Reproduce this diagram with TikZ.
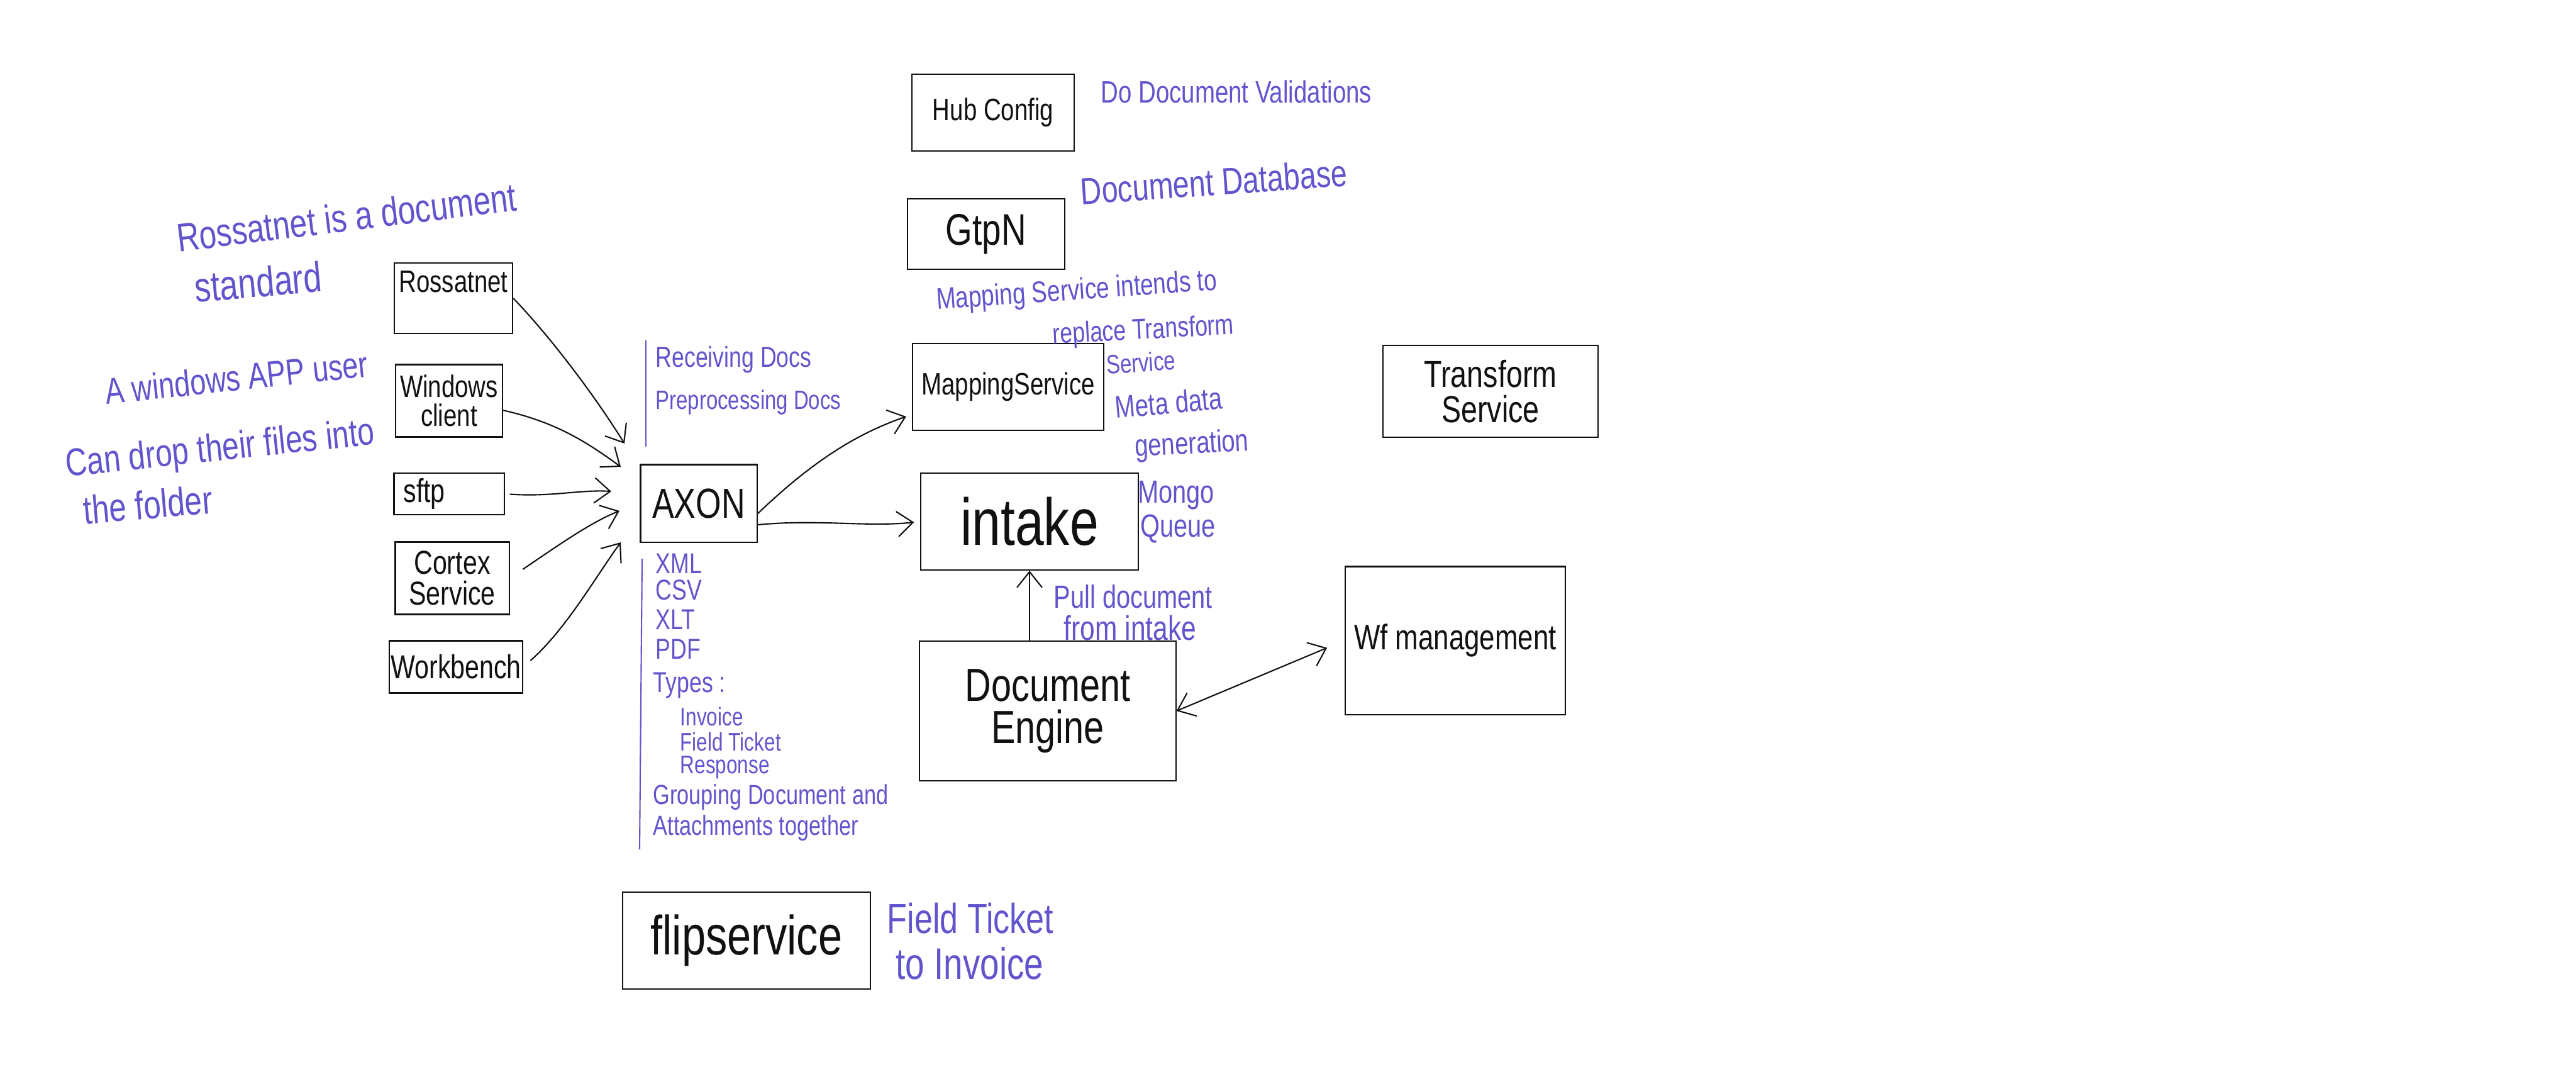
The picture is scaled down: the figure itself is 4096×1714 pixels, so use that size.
\documentclass[tikz,border=0pt]{standalone}
\usepackage{fontspec}
\newfontfamily\hand[FakeStretch=0.78]{Liberation Sans}
\usetikzlibrary{arrows.meta}
\definecolor{ink}{RGB}{17,17,17}
\definecolor{note}{RGB}{98,84,204}
\begin{document}
\begin{tikzpicture}[x=0.01cm, y=-0.01cm,
  fsz/.style={font=\hand\fontsize{#1}{#1}\selectfont},
  box/.style={draw=ink, line width=0.6pt, inner sep=0pt, text=ink, align=center},
  note/.style={text=note, inner sep=0pt, align=left},
  conn/.style={draw=ink, line width=0.6pt, -{Straight Barb[length=0.25cm, width=0.4cm, line width=0.6pt]}},
  rulel/.style={draw=note, line width=0.6pt},
]
\fill[white] (0,0) rectangle (4096,1714);
\useasboundingbox (0,0) rectangle (4096,1714);

% ---------- boxes ----------
\node[box, minimum width=1.88cm, minimum height=1.12cm,
  label={[fsz=14, text=ink, inner sep=0pt, anchor=north, yshift=-0.13cm]north:Rossatnet}] (ross) at (721,474) {};
\node[box, fsz=14, minimum width=1.70cm, minimum height=1.15cm] (win) at (714,637) {Windows\\[-1pt]client};
\node[box, fsz=15, minimum width=1.75cm, minimum height=0.66cm, text width=1.45cm, align=left] (sftp) at (714,785) {sftp};
\node[box, fsz=15, minimum width=1.81cm, minimum height=1.15cm] (cortex) at (719,919) {Cortex\\[-1pt]Service};
\node[box, fsz=15, minimum width=2.12cm, minimum height=0.83cm] (wb) at (725,1060) {Workbench};
\node[box, fsz=19, minimum width=1.85cm, minimum height=1.23cm] (axon) at (1111,800) {AXON};
\node[box, fsz=14, minimum width=2.58cm, minimum height=1.22cm] (hub) at (1579,179) {Hub Config};
\node[box, fsz=20, minimum width=2.49cm, minimum height=1.12cm] (gtpn) at (1568,372) {GtpN};
\node[box, fsz=14, minimum width=3.03cm, minimum height=1.38cm] (map) at (1603,615) {MappingService};
\node[box, fsz=30, minimum width=3.45cm, minimum height=1.54cm] (intake) at (1637,829) {intake};
\node[box, fsz=21, minimum width=4.07cm, minimum height=2.22cm] (de) at (1666,1130) {Document\\[-2pt]Engine};
\node[box, fsz=16, minimum width=3.50cm, minimum height=2.35cm] (wf) at (2314,1018) {Wf management};
\node[box, fsz=17, minimum width=3.42cm, minimum height=1.46cm] (tf) at (2370,622) {Transform\\[-1pt]Service};
\node[box, fsz=25, minimum width=3.94cm, minimum height=1.54cm] (flip) at (1187,1495) {flipservice};

% ---------- notes ----------
\node[note, fsz=18, rotate=7] (nross1) at (551,345) {Rossatnet is a document};
\node[note, fsz=19, rotate=5] (nross2) at (410,448) {standard};
\node[note, fsz=16.5, rotate=6] (nwin1) at (376,600) {A windows APP user};
\node[note, fsz=17.5, rotate=6] (nwin2) at (350,716) {Can drop their files into};
\node[note, fsz=18, rotate=5] (nwin3) at (235,802) {the folder};

\draw[rulel] (1027,541) -- (1027,710);
\node[note, fsz=13, anchor=west] (nrecv) at (1042,572) {Receiving Docs};
\node[note, fsz=12, anchor=west] (nprep) at (1042,640) {Preprocessing Docs};

\draw[rulel] (1021,888) -- (1017,1350);
\node[note, fsz=13, anchor=west] (lxml) at (1042,896) {XML};
\node[note, fsz=13, anchor=west] (lcsv) at (1042,938) {CSV};
\node[note, fsz=13, anchor=west] (lxlt) at (1042,985) {XLT};
\node[note, fsz=13, anchor=west] (lpdf) at (1042,1032) {PDF};
\node[note, fsz=13, anchor=west] (ltypes) at (1038,1089) {Types :};
\node[note, fsz=11.5, anchor=west] (linv) at (1081,1139) {Invoice};
\node[note, fsz=11.5, anchor=west] (lft) at (1081,1179) {Field Ticket};
\node[note, fsz=11.5, anchor=west] (lresp) at (1081,1220) {Response};
\node[note, fsz=12.5, anchor=west] (lgroup) at (1038,1267) {Grouping Document and};
\node[note, fsz=12.5, anchor=west] (latt) at (1038,1316) {Attachments together};

\node[note, fsz=14, anchor=west] (nhub) at (1750,146) {Do Document Validations};
\node[note, fsz=17, rotate=4] (ngtpn) at (1930,289) {Document Database};
\node[note, fsz=13.5, rotate=4] (nmap1) at (1712,464) {Mapping Service intends to};
\node[note, fsz=13, rotate=3] (nmap2) at (1818,527) {replace Transform};
\node[note, fsz=12, rotate=4] (nmap3) at (1814,576) {Service};
\node[note, fsz=14, rotate=5] (nmeta1) at (1858,640) {Meta data};
\node[note, fsz=14, rotate=3] (nmeta2) at (1895,708) {generation};
\node[note, fsz=14.5] (nmongo) at (1870,787) {Mongo};
\node[note, fsz=14.5] (nqueue) at (1873,840) {Queue};
\node[note, fsz=14.5] (npull1) at (1802,948) {Pull document};
\node[note, fsz=15.5] (npull2) at (1797,998) {from intake};
\node[note, fsz=19, anchor=west] (nflip1) at (1410,1460) {Field Ticket};
\node[note, fsz=20, anchor=west] (nflip2) at (1424,1531) {to Invoice};

% ---------- connectors ----------
\coordinate (t1) at (993,705);
\coordinate (t2) at (987,742);
\coordinate (t3) at (972,781);
\coordinate (t4) at (985,812);
\coordinate (t5) at (987,862);

\draw[conn] (ross.east) .. controls (870,530) and (940,620) .. (t1);
\draw[conn] (win.-10) .. controls (880,670) and (930,700) .. (t2);
\draw[conn, shorten <=0.08cm] (sftp.east) .. controls (880,790) and (920,778) .. (t3);
\draw[conn, shorten <=0.25cm] (cortex.east) .. controls (890,865) and (940,830) .. (t4);
\draw[conn, shorten <=0.15cm] (wb.east) .. controls (900,1000) and (945,920) .. (t5);

\draw[conn, shorten >=0.1cm] (axon.-10) .. controls (1290,735) and (1360,690) .. (map.196);
\draw[conn, shorten >=0.1cm] (axon.-20) .. controls (1300,825) and (1380,838) .. (intake.west);
\draw[conn] (de.north -| intake.south) -- (intake.south);
\draw[draw=ink, line width=0.6pt, {Straight Barb[length=0.25cm, width=0.4cm, line width=0.6pt]}-{Straight Barb[length=0.25cm, width=0.4cm, line width=0.6pt]}, shorten >=0.3cm] (de.east) -- (wf.west);
\end{tikzpicture}
\end{document}
